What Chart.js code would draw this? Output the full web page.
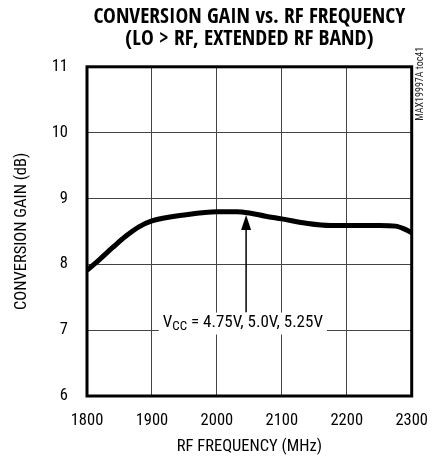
<!DOCTYPE html>
<html>
<head>
<meta charset="utf-8">
<script src="https://cdn.jsdelivr.net/npm/chart.js@4.4.0/dist/chart.umd.min.js"></script>
<style>
  html, body { margin: 0; padding: 0; background: #fff; }
  #wrap { width: 443px; height: 457px; position: relative; }
</style>
</head>
<body>
<div id="wrap"><canvas id="c" width="443" height="457"></canvas></div>
<script>
// ---- data ----
const titleLines = ["CONVERSION GAIN vs. RF FREQUENCY", "(LO > RF, EXTENDED RF BAND)"];
const xTicks = [1800, 1900, 2000, 2100, 2200, 2300];
const yTicks = [6, 7, 8, 9, 10, 11];
const freqMHz = [1800, 1820, 1840, 1860, 1880, 1900, 1950, 2000, 2030, 2050, 2075, 2100, 2140, 2175, 2200, 2250, 2275, 2290, 2300];
const gainDb  = [7.91, 8.08, 8.26, 8.43, 8.57, 8.66, 8.75, 8.80, 8.80, 8.78, 8.73, 8.69, 8.62, 8.59, 8.59, 8.59, 8.58, 8.53, 8.48];
const arrowX = [2045];           // MHz
const arrowY = [7.27, 8.75];     // dB: tail, tip
const labelPos = [2040, 7.1];    // MHz, dB
const labelMain = "V";
const labelSub = "CC";
const labelRest = " = 4.75V, 5.0V, 5.25V";
const sideNote = "MAX19997A toc41";

const COND = "'Roboto Condensed', 'Liberation Sans', sans-serif";
const COND_BOLD = "'Open Sans Condensed', 'Roboto Condensed', sans-serif";

const points = freqMHz.map((f, i) => ({ x: f, y: gainDb[i] }));

const framePlugin = {
  id: 'frame',
  afterDatasetsDraw(chart) {
    const { ctx, chartArea: a, scales } = chart;
    const xs = scales.x, ys = scales.y;
    ctx.save();
    // arrow
    const ax = xs.getPixelForValue(arrowX[0]);
    const yTail = ys.getPixelForValue(arrowY[0]);
    const yTip = ys.getPixelForValue(arrowY[1]);
    ctx.strokeStyle = '#000';
    ctx.fillStyle = '#000';
    ctx.lineWidth = 1.5;
    ctx.beginPath();
    ctx.moveTo(ax, yTail);
    ctx.lineTo(ax, yTip + 12);
    ctx.stroke();
    ctx.beginPath();
    ctx.moveTo(ax, yTip);
    ctx.lineTo(ax - 5, yTip + 15);
    ctx.lineTo(ax + 5, yTip + 15);
    ctx.closePath();
    ctx.fill();

    // label with white background
    const lx = xs.getPixelForValue(labelPos[0]);
    const ly = ys.getPixelForValue(labelPos[1]);
    const fMain = "17px " + COND;
    const fSub = "13px " + COND;
    ctx.font = fMain;
    const w1 = ctx.measureText(labelMain).width;
    const w3 = ctx.measureText(labelRest).width;
    ctx.font = fSub;
    const w2 = ctx.measureText(labelSub).width;
    const total = w1 + w2 + w3;
    const x0 = lx - total / 2;
    ctx.fillStyle = '#fff';
    ctx.fillRect(x0 - 4, ly - 11, total + 8, 22);
    ctx.fillStyle = '#000';
    ctx.textBaseline = 'alphabetic';
    ctx.textAlign = 'left';
    ctx.font = fMain;
    ctx.fillText(labelMain, x0, ly + 3.5);
    ctx.font = fSub;
    ctx.fillText(labelSub, x0 + w1, ly + 6.5);
    ctx.font = fMain;
    ctx.fillText(labelRest, x0 + w1 + w2, ly + 3.5);

    // frame
    ctx.strokeStyle = '#000';
    ctx.lineWidth = 3;
    ctx.strokeRect(a.left, a.top, a.right - a.left, a.bottom - a.top);

    // side note
    ctx.save();
    ctx.translate(a.right + 9, a.top + 17);
    ctx.rotate(-Math.PI / 2);
    ctx.font = "10px " + COND;
    ctx.fillStyle = '#222';
    ctx.textAlign = 'center';
    ctx.textBaseline = 'middle';
    ctx.fillText(sideNote, 0, 0);
    ctx.restore();
    ctx.restore();
  }
};

new Chart(document.getElementById('c'), {
  type: 'line',
  data: {
    datasets: [{
      data: points,
      borderColor: '#000',
      borderWidth: 5,
      pointRadius: 0,
      fill: false,
      cubicInterpolationMode: 'monotone',
      borderCapStyle: 'butt'
    }]
  },
  options: {
    responsive: false,
    animation: false,
    devicePixelRatio: 1,
    layout: { padding: { left: 0, right: 28, top: 0, bottom: 0 } },
    plugins: {
      legend: { display: false },
      tooltip: { enabled: false },
      title: {
        display: true,
        text: titleLines,
        fullSize: false,
        color: '#000',
        font: { family: COND_BOLD, size: 21.5, weight: 'bold', lineHeight: 1.03 },
        padding: { top: 6, bottom: 16.5 }
      }
    },
    scales: {
      x: {
        type: 'linear',
        min: 1800, max: 2300,
        afterBuildTicks(scale) { scale.ticks = xTicks.map(v => ({ value: v })); },
        afterFit(scale) { scale.height = 61; },
        grid: { color: '#444', lineWidth: 1, drawTicks: false },
        border: { display: false },
        ticks: { color: '#000', font: { family: COND, size: 16.5 }, padding: 15, maxRotation: 0, callback: v => String(v) },
        title: { display: true, text: 'RF FREQUENCY (MHz)', color: '#000', font: { family: COND, size: 16.5, lineHeight: 1.2 }, padding: { top: 0, bottom: 0 } }
      },
      y: {
        type: 'linear',
        min: 6, max: 11,
        afterBuildTicks(scale) { scale.ticks = yTicks.map(v => ({ value: v })); },
        afterFit(scale) { scale.width = 87; },
        grid: { color: '#444', lineWidth: 1, drawTicks: false },
        border: { display: false },
        ticks: { color: '#000', font: { family: COND, size: 16.5 }, padding: 19, callback: v => String(v) },
        title: { display: true, text: 'CONVERSION GAIN (dB)', color: '#000', font: { family: COND, size: 16.5, lineHeight: 1.2 }, padding: { top: 12, bottom: 0 } }
      }
    }
  },
  plugins: [framePlugin]
});
</script>
</body>
</html>
